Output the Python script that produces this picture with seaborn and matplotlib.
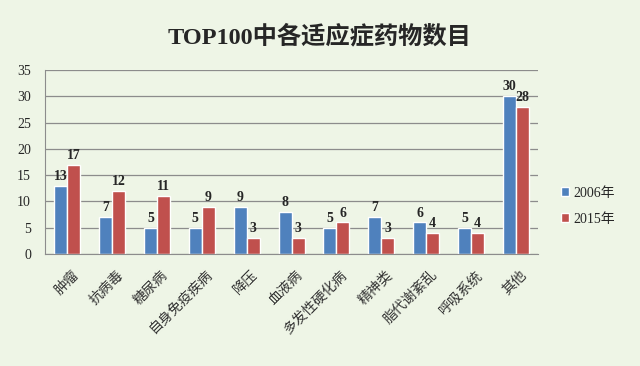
import pandas as pd
import matplotlib
matplotlib.use("Agg")
import matplotlib.pyplot as plt
import matplotlib.transforms as mtransforms
import seaborn as sns

categories = ["肿瘤", "抗病毒", "糖尿病", "自身免疫疾病", "降压", "血液病",
              "多发性硬化病", "精神类", "脂代谢紊乱", "呼吸系统", "其他"]
counts_2006 = [13, 7, 5, 5, 9, 8, 5, 7, 6, 5, 30]
counts_2015 = [17, 12, 11, 9, 3, 3, 6, 3, 4, 4, 28]
series = ["2006年", "2015年"]

df = pd.DataFrame({
    "category": categories * 2,
    "count": counts_2006 + counts_2015,
    "year": [series[0]] * len(categories) + [series[1]] * len(categories),
})

sns.set_style("white")
plt.rcParams["font.family"] = ["Liberation Serif", "Noto Sans CJK SC", "DejaVu Sans"]

bg = "#EEF5E6"
palette = {"2006年": "#4F81BD", "2015年": "#C0504D"}

fig = plt.figure(figsize=(6.4, 3.66), dpi=100, facecolor=bg)
ax = fig.add_axes([0.070, 0.306, 0.771, 0.503])
ax.set_facecolor(bg)

sns.barplot(data=df, x="category", y="count", hue="year", palette=palette,
            width=0.58, saturation=1, ax=ax, legend=True)

for container in ax.containers:
    ax.bar_label(container, padding=2, fontsize=10, fontweight="bold",
                 family="Liberation Serif")

ax.set_ylim(0, 35)
ax.set_yticks(range(0, 36, 5))
ax.yaxis.grid(True, color="#8C8C8C", linewidth=0.9)
ax.set_axisbelow(True)
for s in ["top", "right"]:
    ax.spines[s].set_visible(False)
for s in ["left", "bottom"]:
    ax.spines[s].set_color("#8C8C8C")
ax.set_xlabel("")
ax.set_ylabel("")
ax.tick_params(axis="y", labelsize=10, length=0, pad=10)
ax.tick_params(axis="x", length=0, pad=10)
shift = mtransforms.ScaledTranslation(4 / 100, 0, fig.dpi_scale_trans)
for lbl in ax.get_xticklabels():
    lbl.set_rotation(45)
    lbl.set_ha("right")
    lbl.set_rotation_mode("anchor")
    lbl.set_fontsize(10)
    lbl.set_family(["Noto Sans CJK SC"])
    lbl.set_color("#333333")
    lbl.set_transform(lbl.get_transform() + shift)

ax.legend(loc="center left", bbox_to_anchor=(1.02, 0.26), frameon=False,
          fontsize=10, handlelength=0.6, handleheight=0.6, handletextpad=0.3,
          labelspacing=0.95)

fig.text(0.5, 0.899, "TOP100中各适应症药物数目", ha="center", va="center",
         fontsize=17.5, fontweight="bold",
         family=["Liberation Serif", "Noto Sans CJK SC"])

fig.savefig("out.png", dpi=100, facecolor=bg)
